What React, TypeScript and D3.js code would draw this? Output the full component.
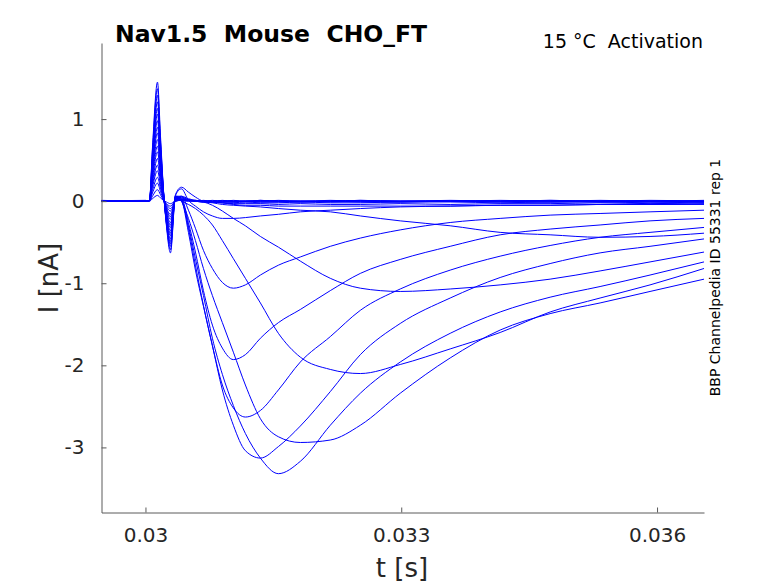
import { axisBottom, axisLeft, curveMonotoneX, line, scaleLinear, select } from "d3";
import React, { useEffect, useRef } from "react";

// sample times (s)
const times = [
    0.029484, 0.03, 0.030047, 0.030082, 0.030141, 0.030176, 0.030211, 0.030246,
    0.030293, 0.030352, 0.030422, 0.030504, 0.030586, 0.03068, 0.030785, 0.030902,
    0.031031, 0.031172, 0.031348, 0.031559, 0.031816, 0.032168, 0.03252, 0.032988,
    0.033574, 0.03416, 0.034746, 0.035332, 0.035918, 0.036551,
];

// currents (nA), one sweep per voltage step, lowest step first
const sweep01 = [0, 0, 0, 0.03, 0.07, 0.04, 0.01, -0.01, -0.03, 0, 0.01, 0, 0.01, 0, 0, 0.01, 0, 0, 0.01, 0, 0, 0.01, 0, 0, 0.01, 0, 0.01, 0, 0, 0.01];
const sweep02 = [0.01, 0, 0, 0.06, 0.14, 0.08, 0.01, -0.03, -0.06, 0, 0.01, 0.01, 0, 0.01, 0, 0, 0.01, 0, 0, 0.01, 0, 0, 0.01, 0, 0, 0.01, 0, 0.01, 0, 0];
const sweep03 = [0, 0.01, 0, 0.1, 0.22, 0.12, 0.02, -0.04, -0.09, 0, 0.02, 0.01, 0, 0, 0.01, 0, 0, 0, 0.01, 0, 0, 0, 0.01, 0, 0, 0, 0.01, 0, 0.01, 0];
const sweep04 = [0, 0, 0.01, 0.13, 0.29, 0.16, 0.03, -0.06, -0.12, 0, 0.02, 0.01, 0.01, 0, 0, 0, -0.01, 0, 0, 0, 0, -0.01, 0, 0, 0, 0, 0, -0.01, 0, 0];
const sweep05 = [0, 0, 0.01, 0.17, 0.37, 0.2, 0.04, -0.08, -0.16, 0.01, 0.03, 0.01, 0, 0, -0.01, 0, 0, -0.01, 0, 0, -0.01, 0, 0, -0.01, 0, 0, -0.01, 0, 0, -0.01];
const sweep06 = [0, 0, 0.01, 0.2, 0.44, 0.24, 0.04, -0.09, -0.19, 0.01, 0.04, 0.02, 0, -0.01, -0.01, -0.01, -0.01, 0, -0.01, -0.01, -0.01, 0, -0.01, -0.01, 0, -0.01, -0.01, 0, -0.01, -0.01];
const sweep07 = [0, 0, 0.01, 0.23, 0.52, 0.29, 0.05, -0.11, -0.22, 0.01, 0.05, 0.02, 0, -0.01, -0.01, -0.02, -0.02, -0.01, -0.02, -0.02, -0.01, -0.02, -0.02, -0.01, -0.01, -0.02, -0.01, -0.01, -0.02, -0.01];
const sweep08 = [0, 0, 0.01, 0.27, 0.6, 0.33, 0.06, -0.13, -0.26, 0.02, 0.06, 0.03, 0.01, 0, -0.01, -0.02, -0.03, -0.03, -0.03, -0.04, -0.03, -0.04, -0.04, -0.03, -0.04, -0.03, -0.03, -0.02, -0.03, -0.02];
const sweep09 = [0, 0, 0.01, 0.3, 0.67, 0.37, 0.07, -0.15, -0.29, 0.02, 0.01, 0, 0, -0.01, -0.02, -0.04, -0.05, -0.06, -0.07, -0.09, -0.11, -0.13, -0.18, -0.24, -0.3, -0.38, -0.41, -0.44, -0.43, -0.39];
const sweep10 = [0, 0, 0.01, 0.34, 0.75, 0.41, 0.08, -0.16, -0.32, 0.04, 0.01, 0.01, 0, -0.01, -0.05, -0.12, -0.21, -0.3, -0.43, -0.56, -0.73, -0.94, -1.06, -1.1, -1.07, -1.02, -0.95, -0.85, -0.74, -0.62];
const sweep11 = [0, 0, 0.01, 0.37, 0.83, 0.46, 0.08, -0.18, -0.36, 0.04, 0, -0.04, -0.09, -0.17, -0.29, -0.48, -0.7, -0.94, -1.24, -1.61, -1.9, -2.05, -2.1, -1.99, -1.8, -1.6, -1.35, -1.18, -1.02, -0.82];
const sweep12 = [0, 0, 0.01, 0.4, 0.9, 0.5, 0.09, -0.2, -0.39, 0.05, 0, -0.21, -0.48, -0.82, -1.15, -1.48, -1.84, -2.24, -2.65, -2.87, -2.94, -2.91, -2.73, -2.34, -1.91, -1.57, -1.37, -1.24, -1.1, -0.95];
const sweep13 = [0, 0, 0.01, 0.44, 0.98, 0.54, 0.1, -0.21, -0.42, 0.05, 0, -0.3, -0.7, -1.15, -1.67, -2.11, -2.49, -2.83, -3.13, -3.32, -3.17, -2.73, -2.34, -1.96, -1.61, -1.35, -1.17, -1.04, -0.9, -0.74];
const sweep14 = [0, 0, 0.01, 0.48, 1.06, 0.58, 0.11, -0.23, -0.46, 0.06, 0.01, -0.38, -0.84, -1.28, -1.76, -2.3, -2.73, -3.04, -3.13, -2.99, -2.74, -2.32, -1.87, -1.49, -1.18, -0.93, -0.76, -0.63, -0.55, -0.46];
const sweep15 = [0, 0, 0.01, 0.5, 1.13, 0.62, 0.11, -0.25, -0.49, 0.05, 0.02, -0.33, -0.78, -1.27, -1.76, -2.24, -2.52, -2.63, -2.55, -2.3, -1.96, -1.65, -1.33, -1.07, -0.84, -0.67, -0.54, -0.44, -0.38, -0.32];
const sweep16 = [0, 0, 0.01, 0.54, 1.21, 0.67, 0.12, -0.26, -0.52, 0.06, 0.04, -0.26, -0.62, -1.09, -1.51, -1.79, -1.93, -1.87, -1.67, -1.48, -1.32, -1.09, -0.88, -0.71, -0.55, -0.41, -0.34, -0.29, -0.24, -0.21];
const sweep17 = [0, 0, 0.01, 0.58, 1.29, 0.71, 0.13, -0.27, -0.55, 0.06, 0.06, -0.11, -0.33, -0.6, -0.82, -0.99, -1.06, -1.02, -0.9, -0.78, -0.68, -0.55, -0.45, -0.35, -0.26, -0.21, -0.17, -0.15, -0.13, -0.11];
const sweep18 = [0, 0, 0.01, 0.62, 1.37, 0.75, 0.13, -0.28, -0.59, 0.07, 0.15, 0.01, -0.06, -0.13, -0.18, -0.21, -0.21, -0.2, -0.18, -0.16, -0.13, -0.11, -0.09, -0.07, -0.06, -0.05, -0.05, -0.04, -0.04, -0.04];
const sweep19 = [0, 0, 0.01, 0.65, 1.45, 0.8, 0.14, -0.3, -0.63, 0.08, 0.17, 0.11, 0.05, 0, -0.01, -0.02, -0.04, -0.05, -0.05, -0.06, -0.06, -0.06, -0.06, -0.06, -0.06, -0.05, -0.05, -0.04, -0.04, -0.03];

const sweeps = [
    sweep01, sweep02, sweep03, sweep04, sweep05, sweep06, sweep07, sweep08, sweep09, sweep10,
    sweep11, sweep12, sweep13, sweep14, sweep15, sweep16, sweep17, sweep18, sweep19,
];

const xTicks = [0.03, 0.033, 0.036];
const yTicks = [-3, -2, -1, 0, 1];

const App: React.FC = () => {
    const plotRef = useRef<SVGGElement>(null);

    useEffect(() => {
        const g = select(plotRef.current);
        g.selectAll("*").remove();

        const left = 101.5,
            right = 704,
            top = 43,
            bottom = 512.5;

        const x = scaleLinear().domain([0.0294844, 0.0365508]).range([left, right]);
        const y = scaleLinear().domain([-3.793, 1.927]).range([bottom, top]);

        const trace = line<number>()
            .x((d, i) => x(times[i]))
            .y(d => y(d))
            .curve(curveMonotoneX);

        g.append("g")
            .selectAll("path")
            .data(sweeps)
            .join("path")
            .attr("fill", "none")
            .attr("stroke", "#0000ff")
            .attr("stroke-width", 1)
            .attr("d", d => trace(d));

        // axes, ticks point inwards like matlab
        const xAxis = g
            .append("g")
            .attr("transform", `translate(0,${bottom})`)
            .call(
                axisBottom(x)
                    .tickValues(xTicks)
                    .tickSizeInner(-5)
                    .tickSizeOuter(0)
                    .tickPadding(15)
                    .tickFormat(d => String(d)),
            );

        const yAxis = g
            .append("g")
            .attr("transform", `translate(${left},0)`)
            .call(
                axisLeft(y)
                    .tickValues(yTicks)
                    .tickSizeInner(-5)
                    .tickSizeOuter(0)
                    .tickPadding(17)
                    .tickFormat(d => String(d)),
            );

        [xAxis, yAxis].forEach(a => {
            a.attr("font-family", "DejaVu Sans").attr("font-size", 20);
            a.selectAll("path, line").attr("stroke", "#5a5a5a");
            a.selectAll("text").attr("fill", "#262626");
        });
    }, []);

    const font = "DejaVu Sans";

    return (
        <svg
            width={778}
            height={583}
            style={{ position: "absolute", left: 0, top: 0, background: "#fff" }}
        >
            <g ref={plotRef} />
            <text
                x={115}
                y={42}
                fontFamily={font}
                fontWeight="bold"
                fontSize={23.5}
                style={{ whiteSpace: "pre" }}
            >
                {"Nav1.5  Mouse  CHO_FT"}
            </text>
            <text
                x={703}
                y={48}
                textAnchor="end"
                fontFamily={font}
                fontSize={19}
                style={{ whiteSpace: "pre" }}
            >
                {"15 °C  Activation"}
            </text>
            <text
                transform="translate(720,277.5) rotate(-90)"
                textAnchor="middle"
                fontFamily={font}
                fontSize={14}
            >
                BBP Channelpedia ID 55331 rep 1
            </text>
            <text x={402} y={577} textAnchor="middle" fontFamily={font} fontSize={26} fill="#262626">
                t [s]
            </text>
            <text
                transform="translate(58,278) rotate(-90)"
                textAnchor="middle"
                fontFamily={font}
                fontSize={26}
                fill="#262626"
            >
                I [nA]
            </text>
        </svg>
    );
};

export default App;
